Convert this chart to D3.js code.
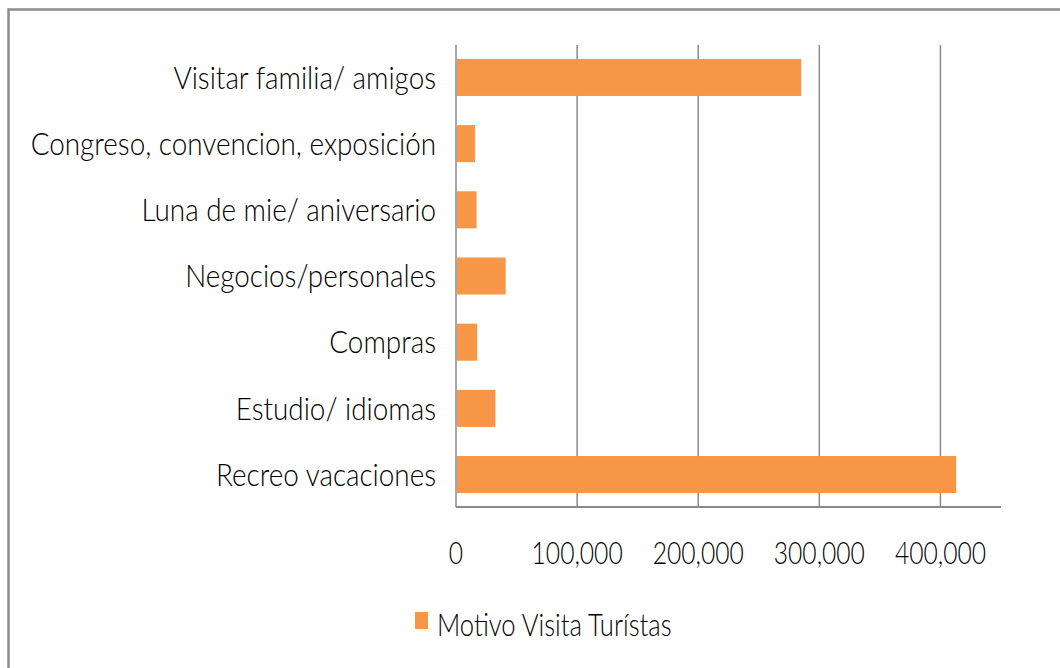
<!DOCTYPE html>
<html>
<head>
<meta charset="utf-8">
<script src="https://cdn.jsdelivr.net/npm/d3@7"></script>
<style>
  body { margin: 0; background: #fff; }
  text { font-family: Lato, "Open Sans", sans-serif; font-weight: 300; fill: #000; }
</style>
</head>
<body>
<div id="vis"></div>
<script>
// data, top to bottom as drawn
const categories = [
  'Visitar familia/ amigos',
  'Congreso, convencion, exposición',
  'Luna de mie/ aniversario',
  'Negocios/personales',
  'Compras',
  'Estudio/ idiomas',
  'Recreo vacaciones'
];
const values = [285000, 15700, 17000, 41000, 17500, 32500, 413000];
const ticks = [0, 100000, 200000, 300000, 400000];
const seriesName = 'Motivo Visita Turístas';

const width = 1060;
const height = 668;
const plotTop = 45, plotBottom = 507;

const svg = d3.select('#vis')
  .append('svg')
    .attr('width', width)
    .attr('height', height);

// chart border
svg.append('rect')
  .attr('x', 8.5)
  .attr('y', 9.5)
  .attr('width', width + 20)
  .attr('height', height + 20)
  .attr('fill', 'none')
  .attr('stroke', '#8c8c8c')
  .attr('stroke-width', 2.5);

const x = d3.scaleLinear()
  .domain([0, 450000])
  .range([456, 1001]);

const y = d3.scaleBand()
  .domain(categories)
  .range([plotTop, plotBottom])
  .paddingInner(0.44)
  .paddingOuter(0.21);

// gridlines
svg.append('g')
  .selectAll('line')
  .data(ticks)
  .join('line')
    .attr('x1', d => x(d))
    .attr('x2', d => x(d))
    .attr('y1', plotTop)
    .attr('y2', plotBottom)
    .attr('stroke', '#8a8a8a')
    .attr('stroke-width', 1.5);

// bars
svg.append('g')
  .selectAll('rect')
  .data(values)
  .join('rect')
    .attr('x', x(0) + 1)
    .attr('y', (d, i) => y(categories[i]))
    .attr('width', d => x(d) - x(0) - 1)
    .attr('height', y.bandwidth())
    .attr('fill', '#F79646');

// axis line
svg.append('line')
  .attr('x1', x(0))
  .attr('x2', x(450000))
  .attr('y1', plotBottom)
  .attr('y2', plotBottom)
  .attr('stroke', '#8a8a8a')
  .attr('stroke-width', 2);

// narrow, tall text like the original's font
function label(g, tx, ty, sx, anchor, str) {
  g.append('g')
    .attr('transform', `translate(${tx},${ty}) scale(${sx},1)`)
    .append('text')
      .attr('dy', '0.35em')
      .attr('text-anchor', anchor)
      .style('font-size', '32px')
      .text(str);
}

const catG = svg.append('g');
categories.forEach(c => label(catG, 436, y(c) + y.bandwidth() / 2, 0.87, 'end', c));

// tick labels
const fmt = d3.format(',');
const tickG = svg.append('g');
ticks.forEach(t => label(tickG, x(t), 553, 0.77, 'middle', fmt(t)));

// legend
const legend = svg.append('g');
legend.append('rect')
  .attr('x', 415)
  .attr('y', 612)
  .attr('width', 13)
  .attr('height', 17)
  .attr('fill', '#F79646');
label(legend, 437, 625, 0.8, 'start', seriesName);
</script>
</body>
</html>
